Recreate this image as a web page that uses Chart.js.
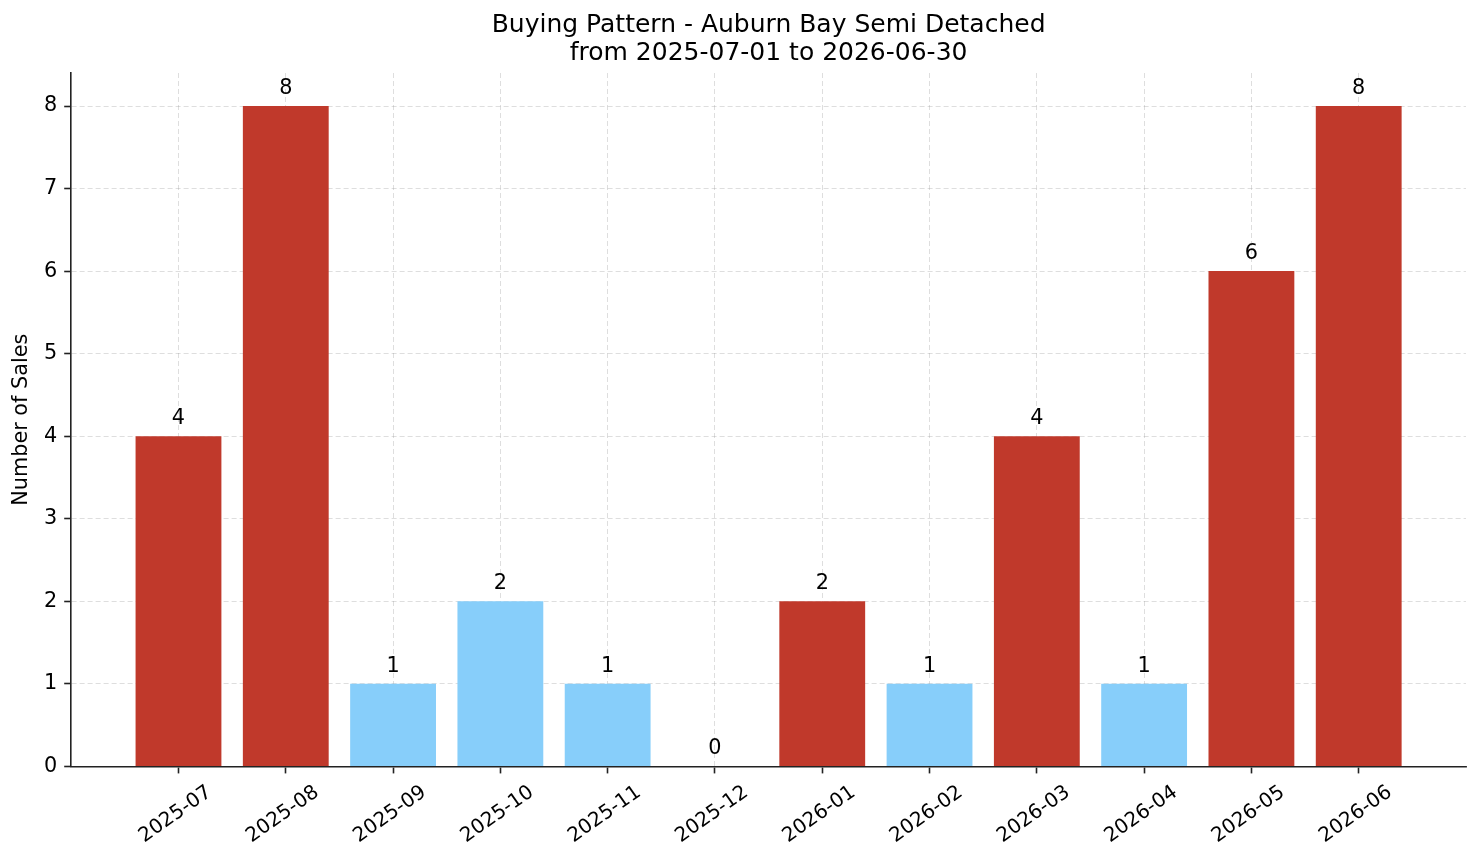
<!DOCTYPE html>
<html>
<head>
<meta charset="utf-8">
<script src="https://cdn.jsdelivr.net/npm/chart.js@4.4.1/dist/chart.umd.min.js"></script>
<style>
    html, body { margin: 0; padding: 0; background: #fff; }
    #wrap { width: 1481px; height: 863px; }
</style>
</head>
<body>
<div id="wrap"><canvas id="chart"></canvas></div>
<script>
const months = ['2025-07', '2025-08', '2025-09', '2025-10', '2025-11', '2025-12',
                '2026-01', '2026-02', '2026-03', '2026-04', '2026-05', '2026-06'];
const sales = [4, 8, 1, 2, 1, 0, 2, 1, 4, 1, 6, 8];
const RED = '#c0392b';
const BLUE = '#87cefa';
const barColors = [RED, RED, BLUE, BLUE, BLUE, BLUE, RED, BLUE, RED, BLUE, RED, RED];
const yTicks = [0, 1, 2, 3, 4, 5, 6, 7, 8];
const titleLines = ['Buying Pattern - Auburn Bay Semi Detached', 'from 2025-07-01 to 2026-06-30'];

const FONT = "'DejaVu Sans', sans-serif";
const GRID = 'rgba(150, 150, 150, 0.4)';
const AXIS = '#222';

// counts above each bar
const valueLabels = {
    id: 'valueLabels',
    afterDraw(chart) {
        const ctx = chart.ctx;
        const meta = chart.getDatasetMeta(0);
        ctx.save();
        ctx.font = '20.8px ' + FONT;
        ctx.fillStyle = '#000';
        ctx.textAlign = 'center';
        ctx.textBaseline = 'alphabetic';
        meta.data.forEach((bar, i) => {
            ctx.fillText(String(sales[i]), bar.x, bar.y - 12);
        });
        ctx.restore();
    }
};

// x labels rotated about their centre, like the original
const xLabels = {
    id: 'xLabels',
    afterDraw(chart) {
        const ctx = chart.ctx;
        const x = chart.scales.x;
        ctx.save();
        ctx.font = '20px ' + FONT;
        ctx.fillStyle = '#000';
        ctx.textAlign = 'center';
        ctx.textBaseline = 'middle';
        months.forEach((m, i) => {
            ctx.save();
            ctx.translate(x.getPixelForValue(i) - 3, x.top + 48);
            ctx.rotate(-35 * Math.PI / 180);
            ctx.fillText(m, 0, 0);
            ctx.restore();
        });
        ctx.restore();
    }
};

new Chart(document.getElementById('chart'), {
    type: 'bar',
    data: {
        datasets: [{
            data: sales.map((v, i) => ({ x: i, y: v })),
            backgroundColor: barColors,
            borderWidth: 0,
            barPercentage: 0.8,
            categoryPercentage: 1.0
        }]
    },
    options: {
        responsive: true,
        maintainAspectRatio: false,
        devicePixelRatio: 1,
        animation: false,
        layout: { padding: { left: 0, right: 15, top: 0, bottom: 16 } },
        plugins: {
            legend: { display: false },
            tooltip: { enabled: false },
            title: {
                display: true,
                fullSize: false,
                text: titleLines,
                color: '#000',
                font: { family: FONT, size: 25, weight: 'normal', lineHeight: 1.12 },
                padding: { top: 11, bottom: 6 }
            }
        },
        scales: {
            x: {
                type: 'linear',
                min: -1,
                max: months.length,
                offset: false,
                z: 1,
                afterBuildTicks: scale => {
                    scale.ticks = months.map((m, i) => ({ value: i }));
                },
                ticks: {
                    autoSkip: false,
                    minRotation: 35,
                    maxRotation: 35,
                    padding: 3,
                    color: 'rgba(0,0,0,0)',
                    font: { family: FONT, size: 20 },
                    callback: (v) => months[v] || ''
                },
                grid: {
                    offset: false,
                    color: GRID,
                    lineWidth: 0.8,
                    tickLength: 7,
                    tickColor: AXIS,
                    tickWidth: 1.6
                },
                border: { color: AXIS, width: 1.6, dash: [5, 3] }
            },
            y: {
                min: 0,
                max: 8.4,
                z: 1,
                afterBuildTicks: scale => {
                    scale.ticks = yTicks.map(v => ({ value: v }));
                },
                ticks: {
                    padding: 7,
                    color: '#000',
                    font: { family: FONT, size: 20.8 }
                },
                grid: {
                    color: GRID,
                    lineWidth: 0.8,
                    tickLength: 7,
                    tickColor: AXIS,
                    tickWidth: 1.6
                },
                border: { color: AXIS, width: 1.6, dash: [5, 3] },
                title: {
                    display: true,
                    text: 'Number of Sales',
                    color: '#000',
                    font: { family: FONT, size: 20.8 },
                    padding: { top: 9, bottom: 3 }
                }
            }
        }
    },
    plugins: [valueLabels, xLabels]
});
</script>
</body>
</html>
